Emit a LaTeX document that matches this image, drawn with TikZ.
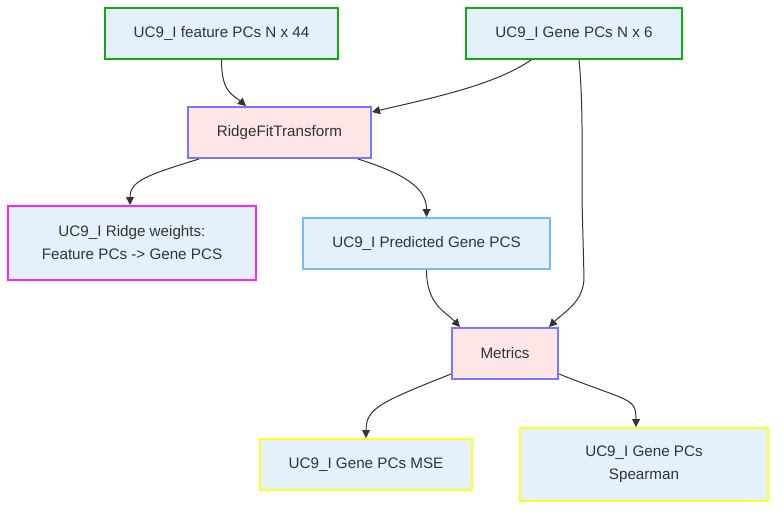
\documentclass[tikz,border=0pt]{standalone}
\usepackage{fontspec}
\setmainfont{Liberation Sans}
\usetikzlibrary{arrows.meta,calc}
\definecolor{txt}{HTML}{333333}
\definecolor{bluefill}{HTML}{E4F1FC}
\definecolor{pinkfill}{HTML}{FFE6E6}
\definecolor{greenb}{HTML}{11AA11}
\definecolor{purpleb}{HTML}{7777FF}
\definecolor{magb}{HTML}{FF22FF}
\definecolor{yelb}{HTML}{FFFF22}
\definecolor{lblueb}{HTML}{77B8FF}
\definecolor{edgec}{HTML}{333333}
\tikzset{
  box/.style={draw, line width=2pt, fill=bluefill, text=txt, inner sep=0pt, align=center,
    font=\fontsize{15.2}{23}\selectfont},
  inbox/.style={box, draw=greenb},
  procbox/.style={box, draw=purpleb, fill=pinkfill},
  outbox/.style={box, draw=yelb},
  wbox/.style={box, draw=magb},
  predbox/.style={box, draw=lblueb},
  conn/.style={draw=edgec, line width=1pt, -{Triangle[length=8pt,width=8pt]}},
}
\begin{document}
\begin{tikzpicture}[x=1pt,y=-1pt]
\useasboundingbox (0,0) rectangle (784,515);
\node[inbox, minimum width=233pt, minimum height=51pt] (A) at (221.5,33.5) {UC9\_I feature PCs N x 44};
\node[inbox, minimum width=216pt, minimum height=51pt] (B) at (574,33.5) {UC9\_I Gene PCs N x 6};
\node[procbox, minimum width=183pt, minimum height=51pt] (C) at (279.5,132.5) {RidgeFitTransform};
\node[wbox, minimum width=248pt, minimum height=74pt] (D) at (132,243) {UC9\_I Ridge weights:\\Feature PCs -> Gene PCS};
\node[predbox, minimum width=247pt, minimum height=51pt] (E) at (426.5,243.5) {UC9\_I Predicted Gene PCS};
\node[procbox, minimum width=106pt, minimum height=51pt] (F) at (505,353.5) {Metrics};
\node[outbox, minimum width=212pt, minimum height=51pt] (G) at (366,464.5) {UC9\_I Gene PCs MSE};
\node[outbox, minimum width=248pt, minimum height=73pt] (H) at (644,464.5) {UC9\_I Gene PCs\\Spearman};

\draw[conn] (A.south) .. controls ($(A.south)+(0,32)$) and ($(C.north west)+(45,-12)$) .. ($(C.north west)+(59,0)$);
\draw[conn] ($(B.south west)+(66,0)$) .. controls ($(B.south west)+(30,25)$) and ($(C.north east)+(60,-8)$) .. ($(C.north east)+(0,6)$);
\draw[conn] ($(B.south west)+(114,0)$) .. controls ($(B.south west)+(118,40)$) and ($(B.south west)+(117,90)$) .. ($(B.south west)+(117,140)$) -- ($(F.north east)+(25,-50)$) .. controls ($(F.north east)+(25,-25)$) and ($(F.north east)+(5,-15)$) .. ($(F.north east)+(-10,0)$);
\draw[conn] ($(C.south west)+(12,0)$) .. controls ($(C.south west)+(-40,16)$) and ($(D.north)+(-2,-24)$) .. ($(D.north)+(-2,0)$);
\draw[conn] ($(C.south east)+(-14,0)$) .. controls ($(C.south east)+(30,14)$) and ($(E.north)+(0,-30)$) .. (E.north);
\draw[conn] (E.south) .. controls ($(E.south)+(0,35)$) and ($(F.north west)+(-5,-15)$) .. ($(F.north west)+(9,0)$);
\draw[conn] ($(F.south west)+(0,-6)$) .. controls ($(F.south west)+(-70,22)$) and ($(G.north)+(0,-30)$) .. (G.north);
\draw[conn] ($(F.south east)+(0,-6)$) .. controls ($(F.south east)+(70,22)$) and ($(H.north)+(-8,-30)$) .. ($(H.north)+(-8,0)$);
\end{tikzpicture}
\end{document}
